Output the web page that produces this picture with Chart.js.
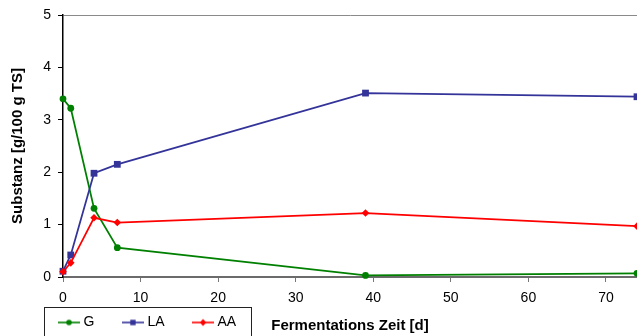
<!DOCTYPE html>
<html>
<head>
<meta charset="utf-8">
<script src="https://cdn.jsdelivr.net/npm/chart.js@4/dist/chart.umd.min.js"></script>
<style>
  html, body { margin: 0; padding: 0; background: #fff; }
  #wrap { width: 637px; height: 336px; position: relative; }
</style>
</head>
<body>
<div id="wrap"><canvas id="c" width="637" height="336"></canvas></div>
<script>
// ---- data ----
const days = [0, 1, 4, 7, 39, 74];
const seriesNames = ['G', 'LA', 'AA'];
const gValues = [3.40, 3.22, 1.31, 0.56, 0.03, 0.07];
const laValues = [0.11, 0.42, 1.98, 2.15, 3.51, 3.44];
const aaValues = [0.10, 0.27, 1.13, 1.04, 1.22, 0.97];
const xTickValues = [0, 10, 20, 30, 40, 50, 60, 70];
const yTickValues = [0, 1, 2, 3, 4, 5];
const xTitle = 'Fermentations Zeit [d]';
const yTitle = 'Substanz [g/100 g TS]';

const colors = ['#008000', '#333399', '#ff0000'];
const styles = ['circle', 'rect', 'rectRot'];
const radii = [3.4, 4.8, 3.8];
const FONT = "'Liberation Sans', Arial, sans-serif";

function toPoints(vals) { return days.map((d, i) => ({ x: d, y: vals[i] })); }
const allValues = [gValues, laValues, aaValues];

function makeIcon(color, style) {
  const c = document.createElement('canvas');
  c.width = 22; c.height = 10;
  const g = c.getContext('2d');
  g.strokeStyle = color; g.lineWidth = 1.6;
  g.beginPath(); g.moveTo(0, 5); g.lineTo(22, 5); g.stroke();
  g.fillStyle = color;
  g.beginPath();
  if (style === 'circle') { g.arc(11, 5, 2.8, 0, Math.PI * 2); }
  else if (style === 'rect') { g.rect(8.3, 2.3, 5.4, 5.4); }
  else { g.moveTo(11, 1.6); g.lineTo(14.2, 5); g.lineTo(11, 8.4); g.lineTo(7.8, 5); g.closePath(); }
  g.fill();
  return c;
}
const icons = seriesNames.map((n, i) => makeIcon(colors[i], styles[i]));

const datasets = seriesNames.map((name, i) => ({
  label: name,
  data: toPoints(allValues[i]),
  borderColor: colors[i],
  backgroundColor: colors[i],
  borderWidth: 1.75,
  pointStyle: styles[i],
  pointRadius: radii[i],
  pointBorderWidth: 0,
  pointBackgroundColor: colors[i],
  tension: 0,
  clip: false,
  order: 3 - i
}));

const legendPlace = {
  id: 'legendPlace',
  beforeDraw(chart) {
    const lg = chart.legend;
    if (lg) { lg.left = 30.5; lg.top = 284.5; }
  },
  afterDraw(chart) {
    const ctx = chart.ctx;
    ctx.save();
    ctx.strokeStyle = '#222';
    ctx.lineWidth = 1;
    ctx.strokeRect(44.5, 307.5, 207, 40);
    ctx.restore();
  }
};

new Chart(document.getElementById('c'), {
  type: 'line',
  data: { datasets },
  options: {
    responsive: false,
    animation: false,
    devicePixelRatio: 1,
    layout: { autoPadding: false, padding: { left: 0, top: 15, right: -3, bottom: 0 } },
    plugins: {
      tooltip: { enabled: false },
      legend: {
        display: true,
        position: 'bottom',
        align: 'start',
        maxHeight: 1,
        labels: {
          usePointStyle: true,
          pointStyleWidth: 15,
          padding: 31,
          color: '#000',
          font: { family: FONT, size: 14 },
          generateLabels: (chart) => chart.data.datasets.map((ds, i) => ({
            text: ds.label,
            pointStyle: icons[i],
            fillStyle: ds.borderColor,
            strokeStyle: ds.borderColor,
            lineWidth: 0,
            hidden: false,
            datasetIndex: i,
            fontColor: '#000'
          }))
        }
      }
    },
    scales: {
      x: {
        type: 'linear',
        min: 0,
        max: 74,
        afterBuildTicks: (s) => { s.ticks = xTickValues.map(v => ({ value: v })); },
        afterFit: (s) => { s.height = 58; s.paddingLeft = 0; s.paddingRight = -3; },
        ticks: { color: '#000', padding: 8, font: { family: FONT, size: 14 }, maxRotation: 0 },
        grid: { drawOnChartArea: false, drawTicks: true, tickLength: 5, tickColor: '#777', tickWidth: 1 },
        border: { display: true, color: '#6b6b6b', width: 2 },
        title: { display: true, text: xTitle, color: '#000', font: { family: FONT, size: 15, weight: 'bold' }, padding: { top: 0, bottom: 0 } }
      },
      y: {
        min: 0,
        max: 5,
        afterBuildTicks: (s) => { s.ticks = yTickValues.map(v => ({ value: v })); },
        afterFit: (s) => { s.width = 63; s.paddingRight = -3; s.paddingTop = 0; },
        ticks: { color: '#000', padding: 7, font: { family: FONT, size: 14 } },
        grid: {
          drawOnChartArea: true,
          drawTicks: true,
          tickLength: 5,
          tickColor: '#000',
          color: (c) => (c.tick && c.tick.value === 5) ? '#8a8a8a' : 'rgba(0,0,0,0)',
          lineWidth: 1
        },
        border: { display: true, color: '#000', width: 1.5 },
        title: { display: true, text: yTitle, color: '#000', font: { family: FONT, size: 15, weight: 'bold' }, padding: { top: 8.5, bottom: 0 } }
      }
    }
  },
  plugins: [legendPlace]
});
</script>
</body>
</html>
